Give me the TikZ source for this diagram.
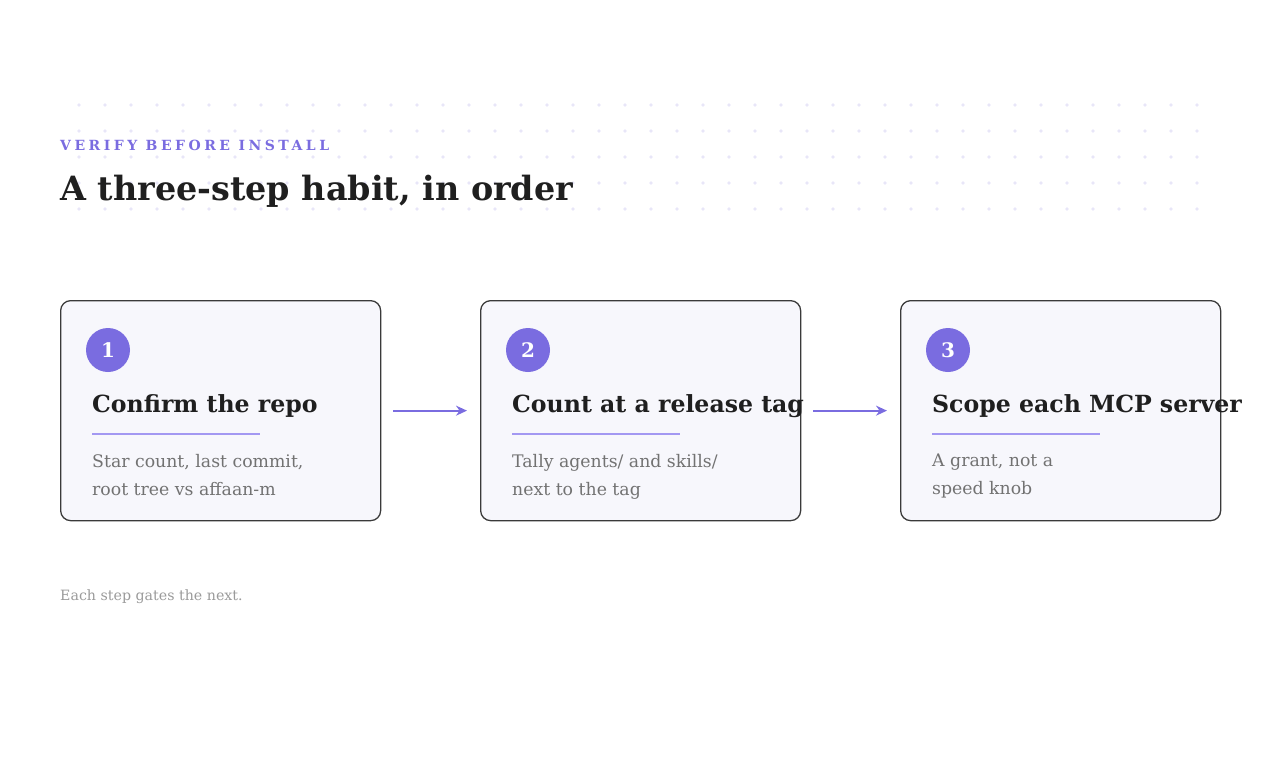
\documentclass[tikz,border=0pt]{standalone}
\usepackage{fontspec}
\setmainfont{DejaVu Serif}
\newfontfamily\kickerfont[LetterSpace=25]{DejaVu Serif}
\usetikzlibrary{calc, positioning, arrows.meta}
\definecolor{accent}{HTML}{7A6CE0}
\definecolor{rulec}{HTML}{A398F2}
\definecolor{boxfill}{HTML}{F7F7FC}
\definecolor{boxline}{HTML}{3A3A3A}
\definecolor{inkc}{HTML}{1F1F1F}
\definecolor{bodyc}{HTML}{727272}
\definecolor{notec}{HTML}{9A9A9A}
\definecolor{dotc}{HTML}{E8E6F8}
\tikzstyle{stepbox} = [
rectangle,
rounded corners=10pt,
minimum width=320pt,
minimum height=220pt,
draw=boxline,
line width=1.3pt,
fill=boxfill,
anchor=north west
]
\tikzstyle{badge} = [
circle,
fill=accent,
minimum size=44pt,
inner sep=0pt,
text=white,
font=\fontsize{20}{20}\selectfont\bfseries
]
\tikzstyle{heading} = [
anchor=base west,
inner sep=0pt,
text=inkc,
font=\fontsize{23.6}{28}\selectfont\bfseries
]
\tikzstyle{detail} = [
anchor=north west,
inner sep=0pt,
align=left,
text=bodyc,
font=\fontsize{17.3}{28}\selectfont
]
\tikzstyle{underline} = [rulec, line width=1.8pt]
\tikzstyle{arrow} = [accent, line width=1.8pt, -{Stealth[length=11pt,width=10pt]}]

\begin{document}
\begin{tikzpicture}[x=1pt, y=-1pt]
        \useasboundingbox (0,0) rectangle (1280,760);
        
        % dotted backdrop
        \foreach \i in {0,...,43}
        \foreach \j in {0,...,4}
        \fill[dotc] (79+26*\i, 105+26*\j) circle (1.8);
        
        \node (kicker) [anchor=base west, inner sep=0pt, text=accent,
        font=\kickerfont\fontsize{14}{14}\selectfont\bfseries]
        at (60,150) {VERIFY BEFORE INSTALL};
        
        \node (title) [anchor=base west, inner sep=0pt, text=inkc,
        font=\fontsize{33.4}{40}\selectfont\bfseries]
        at (60,200) {A three-step habit, in order};
        
        \node (box1) [stepbox] at (60,300) {};
        \node (box2) [stepbox] at (480,300) {};
        \node (box3) [stepbox] at (900,300) {};
        
        \node (num1) [badge] at ($(box1.north west)+(48,50)$) {1};
        \node (num2) [badge] at ($(box2.north west)+(48,50)$) {2};
        \node (num3) [badge] at ($(box3.north west)+(48,50)$) {3};
        
        \node (head1) [heading] at ($(box1.north west)+(32,112)$) {Confirm the repo};
        \node (head2) [heading] at ($(box2.north west)+(32,112)$) {Count at a release tag};
        \node (head3) [heading] at ($(box3.north west)+(32,112)$) {Scope each MCP server};
        
        \draw [underline] ($(box1.north west)+(32,134)$) -- ++(168,0);
        \draw [underline] ($(box2.north west)+(32,134)$) -- ++(168,0);
        \draw [underline] ($(box3.north west)+(32,134)$) -- ++(168,0);
        
        \node (text1) [detail] at ($(box1.north west)+(32,154)$)
        {Star count, last commit,\\root tree vs affaan-m};
        \node (text2) [detail] at ($(box2.north west)+(32,154)$)
        {Tally agents/ and skills/\\next to the tag};
        \node (text3) [detail] at ($(box3.north west)+(32,154)$)
        {A grant, not a\\speed knob};
        
        \draw [arrow] ([xshift=12pt]box1.east)--([xshift=-13pt]box2.west);
        
        \draw [arrow] ([xshift=12pt]box2.east)--([xshift=-13pt]box3.west);
        
        \node (note) [anchor=base west, inner sep=0pt, text=notec,
        font=\fontsize{14.2}{14}\selectfont]
        at (60,600) {Each step gates the next.};
        
        \end{tikzpicture}
\end{document}
